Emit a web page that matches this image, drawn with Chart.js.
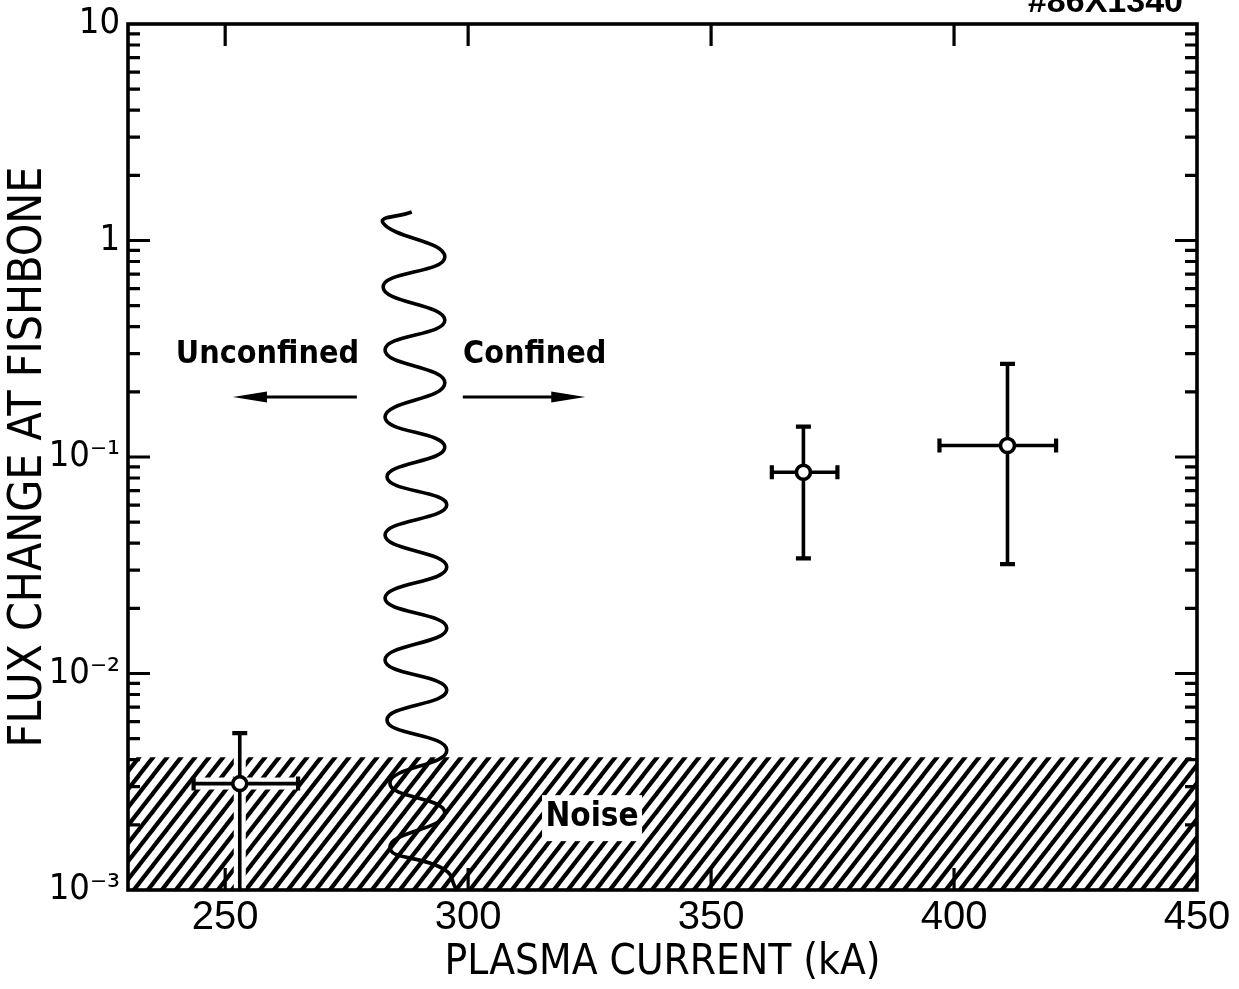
<!DOCTYPE html>
<html><head><meta charset="utf-8">
<script src="https://cdn.jsdelivr.net/npm/chart.js@4/dist/chart.umd.min.js"></script>
<style>html,body{margin:0;padding:0;background:#fff}#wrap{width:1239px;height:989px}</style>
</head><body><div id="wrap"><canvas id="c" width="1239" height="989"></canvas></div>
<script>
// ---- data ----
const xTicks = [250, 300, 350, 400, 450];
const yTicks = [0.001, 0.01, 0.1, 1, 10];
const yTickLabels = ['10⁻³', '10⁻²', '10⁻¹', '1', '10'];
const current = [253, 369, 411];
const flux = [0.0031, 0.085, 0.113];
const currentLow = [243.5, 362.5, 397];
const currentHigh = [265, 376, 421];
const fluxLow = [0.0008, 0.034, 0.032];
const fluxHigh = [0.0053, 0.138, 0.269];
const noiseX = [230, 450];
const noiseLevel = [0.0041, 0.0041];
const waveX = [288.4, 282.5, 295.2, 282.5, 295.2, 282.9, 295.2, 282.9, 295.2, 283.3, 295.6, 282.9, 295.6, 282.9, 295.6, 282.9, 295.6, 283.3, 295.6, 283.9, 295.2, 283.9, 295.2, 297.5];
const waveY = [1.354, 1.205, 0.839, 0.610, 0.429, 0.312, 0.2197, 0.1530, 0.1112, 0.0808, 0.0600, 0.0436, 0.0310, 0.0223, 0.0162, 0.01155, 0.00839, 0.00610, 0.00443, 0.00312, 0.00227, 0.00158, 0.00124, 0.00101];

const NARROW = "'Liberation Sans Narrow', 'DejaVu Sans Condensed', 'Liberation Sans', sans-serif";
const SANS = "'Liberation Sans', 'DejaVu Sans', sans-serif";

const hatch = (() => {
  const w = 14, h = 18;
  const c = document.createElement('canvas'); c.width = w; c.height = h;
  const g = c.getContext('2d');
  g.strokeStyle = '#000'; g.lineWidth = 4.2;
  for (const dx of [-w, 0, w]) { g.beginPath(); g.moveTo(dx - w, 2 * h); g.lineTo(dx + 2 * w, -h); g.stroke(); }
  return g.createPattern(c, 'repeat');
})();

function drawArrow(ctx, x0, y0, x1, y1) {
  const dir = Math.sign(x1 - x0);
  ctx.beginPath(); ctx.moveTo(x0, y0); ctx.lineTo(x1 - dir * 20, y1); ctx.lineWidth = 3.2; ctx.stroke();
  ctx.beginPath(); ctx.moveTo(x1, y1); ctx.lineTo(x1 - dir * 34, y1 - 5.5); ctx.lineTo(x1 - dir * 34, y1 + 5.5); ctx.closePath(); ctx.fill();
}

const decor = {
  id: 'decor',
  afterDatasetDraw(chart, args) {
    const {ctx, chartArea: a, scales: {x, y}} = chart;
    if (args.index === 0) {
      const px = x.getPixelForValue(325.5), py = y.getPixelForValue(0.00217);
      ctx.save();
      ctx.fillStyle = '#fff';
      ctx.fillRect(px - 50, py - 22, 100, 46);
      ctx.fillStyle = '#000';
      ctx.font = 'bold 33px ' + NARROW;
      ctx.textAlign = 'center'; ctx.textBaseline = 'middle';
      ctx.fillText('Noise', px, py);
      ctx.restore();
    }
    if (args.index === 1) {
      ctx.save();
      ctx.beginPath(); ctx.rect(a.left, a.top, a.right - a.left, a.bottom - a.top); ctx.clip();
      for (let pass = 0; pass < 2; pass++) {
        ctx.strokeStyle = pass ? '#000' : '#fff';
        ctx.lineWidth = pass ? 3.6 : 12;
        current.forEach((c, i) => {
          const px = x.getPixelForValue(c), py = y.getPixelForValue(flux[i]);
          const x0 = x.getPixelForValue(currentLow[i]), x1 = x.getPixelForValue(currentHigh[i]);
          const y0 = y.getPixelForValue(fluxLow[i]), y1 = y.getPixelForValue(fluxHigh[i]);
          ctx.beginPath();
          ctx.moveTo(x0, py); ctx.lineTo(x1, py);
          ctx.moveTo(px, y0); ctx.lineTo(px, y1);
          ctx.stroke();
          if (pass) {
            ctx.lineWidth = 4.2;
            ctx.beginPath();
            ctx.moveTo(x0, py - 7); ctx.lineTo(x0, py + 7);
            ctx.moveTo(x1, py - 7); ctx.lineTo(x1, py + 7);
            ctx.moveTo(px - 7.5, y0); ctx.lineTo(px + 7.5, y0);
            ctx.moveTo(px - 7.5, y1); ctx.lineTo(px + 7.5, y1);
            ctx.stroke();
            ctx.lineWidth = 3.6;
          }
        });
      }
      ctx.restore();
    }
  },
  afterDraw(chart) {
    const {ctx, chartArea: a, scales: {x, y}} = chart;
    ctx.save();
    ctx.strokeStyle = '#000'; ctx.fillStyle = '#000';
    ctx.lineWidth = 3.6;
    ctx.strokeRect(a.left, a.top, a.right - a.left, a.bottom - a.top);
    ctx.lineWidth = 3.2;
    ctx.beginPath();
    xTicks.forEach(v => {
      const px = x.getPixelForValue(v);
      if (px > a.left + 2 && px < a.right - 2) {
        ctx.moveTo(px, a.top); ctx.lineTo(px, a.top + 22);
        ctx.moveTo(px, a.bottom); ctx.lineTo(px, a.bottom - 22);
      }
    });
    yTicks.forEach(v => {
      for (let m = 1; m <= 9; m++) {
        const val = v * m;
        if (val > y.max * 1.0001) continue;
        const py = y.getPixelForValue(val);
        if (py < a.top + 1 || py > a.bottom - 1) continue;
        const len = m === 1 ? 22 : 12;
        ctx.moveTo(a.left, py); ctx.lineTo(a.left + len, py);
        ctx.moveTo(a.right, py); ctx.lineTo(a.right - len, py);
      }
    });
    ctx.stroke();
    const ay = y.getPixelForValue(0.1893);
    drawArrow(ctx, x.getPixelForValue(277.1), ay, x.getPixelForValue(251.6), ay);
    drawArrow(ctx, x.getPixelForValue(298.9), ay, x.getPixelForValue(324.1), ay);
    ctx.font = 'bold 32px ' + NARROW;
    ctx.textAlign = 'center'; ctx.textBaseline = 'middle';
    const ty = y.getPixelForValue(0.296);
    ctx.fillText('Unconfined', x.getPixelForValue(258.7), ty);
    ctx.fillText('Confined', x.getPixelForValue(313.7), ty);
    ctx.font = 'bold 34px ' + SANS;
    ctx.textAlign = 'right'; ctx.textBaseline = 'alphabetic';
    ctx.fillText('#86X1340', 1183, 12);
    ctx.restore();
  }
};

new Chart(document.getElementById('c'), {
  type: 'scatter',
  data: {
    datasets: [
      {
        type: 'line', label: 'Noise', order: 3,
        data: noiseX.map((v, i) => ({x: v, y: noiseLevel[i]})),
        fill: 'start', backgroundColor: hatch, borderWidth: 0, pointRadius: 0
      },
      {
        type: 'line', label: 'Boundary', order: 2,
        data: waveX.map((v, i) => ({x: v, y: waveY[i]})),
        borderColor: '#000', borderWidth: 3.6, tension: 0.5, pointRadius: 0, fill: false
      },
      {
        label: 'Flux change', order: 1,
        data: current.map((v, i) => ({x: v, y: flux[i]})),
        pointRadius: 7, pointBorderWidth: 3.6, pointBackgroundColor: '#fff', pointBorderColor: '#000'
      }
    ]
  },
  options: {
    responsive: false, animation: false,
    layout: {padding: {top: 24, right: 42, left: 0, bottom: 0}},
    plugins: {legend: {display: false}, tooltip: {enabled: false}},
    scales: {
      x: {
        type: 'linear', min: 230, max: 450,
        afterBuildTicks: s => { s.ticks = xTicks.map(v => ({value: v})); },
        afterFit: s => { s.height = 99; },
        grid: {display: false, drawTicks: false}, border: {display: false},
        ticks: {color: '#000', font: {family: SANS, size: 40}, padding: 4, maxRotation: 0, autoSkip: false},
        title: {display: true, text: 'PLASMA CURRENT (kA)', color: '#000', font: {family: NARROW, size: 42, lineHeight: 1.1}, padding: {top: 0, bottom: 3}}
      },
      y: {
        type: 'logarithmic', min: 0.001, max: 10,
        afterBuildTicks: s => { s.ticks = yTicks.map(v => ({value: v, major: true})); },
        afterFit: s => { s.width = 128; s.paddingTop = 0; s.paddingBottom = 0; },
        grid: {display: false, drawTicks: false}, border: {display: false},
        ticks: {color: '#000', font: {family: NARROW, size: 36, lineHeight: 0.9}, padding: 8, autoSkip: false,
                callback: (v, i) => yTickLabels[i]},
        title: {display: true, text: 'FLUX CHANGE AT FISHBONE', color: '#000', font: {family: NARROW, size: 46, lineHeight: 1.1}, padding: {top: 4, bottom: 0}}
      }
    }
  },
  plugins: [decor]
});
</script>
</body></html>
